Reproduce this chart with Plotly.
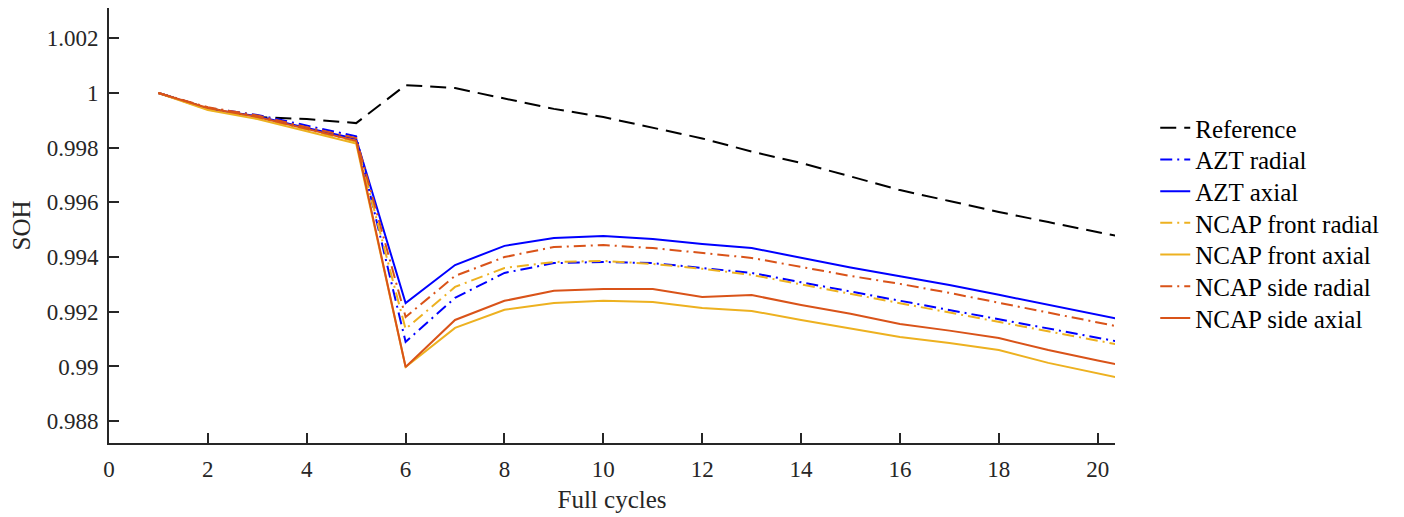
import plotly.graph_objects as go

cycles = list(range(1, 22))

reference = [1.00000, 0.99945, 0.99912, 0.99905, 0.99890, 1.00029, 1.00018, 0.99979,
             0.99942, 0.99912, 0.99874, 0.99834, 0.99786, 0.99744, 0.99695, 0.99645,
             0.99605, 0.99565, 0.99528, 0.99492, 0.99455]
azt_radial = [1.00000, 0.99945, 0.99920, 0.99880, 0.99842, 0.99090, 0.99251, 0.99342,
              0.99378, 0.99382, 0.99378, 0.99360, 0.99342, 0.99308, 0.99274, 0.99240,
              0.99206, 0.99172, 0.99139, 0.99105, 0.99071]
azt_axial = [1.00000, 0.99942, 0.99915, 0.99872, 0.99832, 0.99232, 0.99371, 0.99441,
             0.99470, 0.99477, 0.99466, 0.99448, 0.99433, 0.99398, 0.99362, 0.99330,
             0.99298, 0.99262, 0.99226, 0.99190, 0.99153]
front_radial = [1.00000, 0.99940, 0.99910, 0.99865, 0.99822, 0.99137, 0.99291, 0.99360,
                0.99382, 0.99386, 0.99375, 0.99357, 0.99335, 0.99300, 0.99266, 0.99232,
                0.99198, 0.99163, 0.99129, 0.99094, 0.99060]
front_axial = [1.00000, 0.99938, 0.99905, 0.99860, 0.99815, 0.98998, 0.99141, 0.99207,
               0.99232, 0.99240, 0.99236, 0.99214, 0.99203, 0.99170, 0.99138, 0.99108,
               0.99086, 0.99060, 0.99013, 0.98975, 0.98937]
side_radial = [1.00000, 0.99948, 0.99918, 0.99875, 0.99835, 0.99181, 0.99331, 0.99400,
               0.99437, 0.99444, 0.99433, 0.99415, 0.99397, 0.99364, 0.99331, 0.99302,
               0.99269, 0.99233, 0.99197, 0.99161, 0.99125]
side_axial = [1.00000, 0.99945, 0.99912, 0.99868, 0.99825, 0.98998, 0.99170, 0.99240,
              0.99277, 0.99283, 0.99283, 0.99254, 0.99261, 0.99225, 0.99193, 0.99155,
              0.99131, 0.99104, 0.99060, 0.99022, 0.98984]

series_names = ["Reference", "AZT radial", "AZT axial", "NCAP front radial",
                "NCAP front axial", "NCAP side radial", "NCAP side axial"]
series_values = [reference, azt_radial, azt_axial, front_radial, front_axial,
                 side_radial, side_axial]
series_colors = ["#000000", "#0000FF", "#0000FF", "#EDB120", "#EDB120", "#D95319", "#D95319"]
series_dash = ["16px,8px", "12px,5px,2px,5px", "solid", "12px,5px,2px,5px", "solid",
               "12px,5px,2px,5px", "solid"]

x_tick_vals = [0, 2, 4, 6, 8, 10, 12, 14, 16, 18, 20]
x_tick_labels = ["0", "2", "4", "6", "8", "10", "12", "14", "16", "18", "20"]
y_tick_vals = [0.988, 0.990, 0.992, 0.994, 0.996, 0.998, 1.000, 1.002]
y_tick_labels = ["0.988", "0.99", "0.992", "0.994", "0.996", "0.998", "1", "1.002"]

font_family = "Liberation Serif"
axis_color = "#262626"

W, H = 1404, 517
M_L, M_R, M_T, M_B = 109, 289, 8, 74
plot_h = H - M_T - M_B

# legend rows (pixel centres) -> paper coordinates
legend_first_row_px = 128
legend_row_step_px = 31.7

fig = go.Figure()
layout_legends = {}
for i, (name, vals, col, dash) in enumerate(zip(series_names, series_values,
                                                  series_colors, series_dash)):
    lg = "legend" if i == 0 else f"legend{i + 1}"
    fig.add_trace(go.Scatter(x=cycles, y=vals, mode="lines", name=name, legend=lg,
                             line=dict(color=col, width=2, dash=dash)))
    yc = legend_first_row_px + i * legend_row_step_px
    layout_legends[lg] = dict(
        x=1.040, y=(H - M_B - yc) / plot_h, xanchor="left", yanchor="middle",
        font=dict(family=font_family, size=25, color="#000000"),
        bgcolor="rgba(0,0,0,0)", borderwidth=0,
    )

fig.update_layout(
    width=W, height=H,
    margin=dict(l=M_L, r=M_R, t=M_T, b=M_B),
    paper_bgcolor="white", plot_bgcolor="white",
    font=dict(family=font_family, size=23, color=axis_color),
    showlegend=True,
    **layout_legends,
)
fig.update_xaxes(range=[0, 20.35], tickmode="array", tickvals=x_tick_vals,
                 ticktext=x_tick_labels, ticks="inside", ticklen=10, tickwidth=1.5,
                 tickcolor=axis_color, showline=True, linecolor=axis_color, linewidth=2,
                 showgrid=False, zeroline=False, mirror=False, ticklabelstandoff=4,
                 title=dict(text="Full cycles", standoff=10, font=dict(size=25)),
                 tickfont=dict(size=23))
fig.update_yaxes(range=[0.98720, 1.00311], tickmode="array", tickvals=y_tick_vals,
                 ticktext=y_tick_labels, ticks="inside", ticklen=10, tickwidth=1.5,
                 tickcolor=axis_color, showline=True, linecolor=axis_color, linewidth=2,
                 showgrid=False, zeroline=False, mirror=False, ticklabelstandoff=4,
                 title=dict(text="SOH", standoff=9, font=dict(size=25)),
                 tickfont=dict(size=23))

fig.write_html("out.html", config={"displayModeBar": False},
               post_script="document.body.style.margin='0';document.body.style.padding='0';")
